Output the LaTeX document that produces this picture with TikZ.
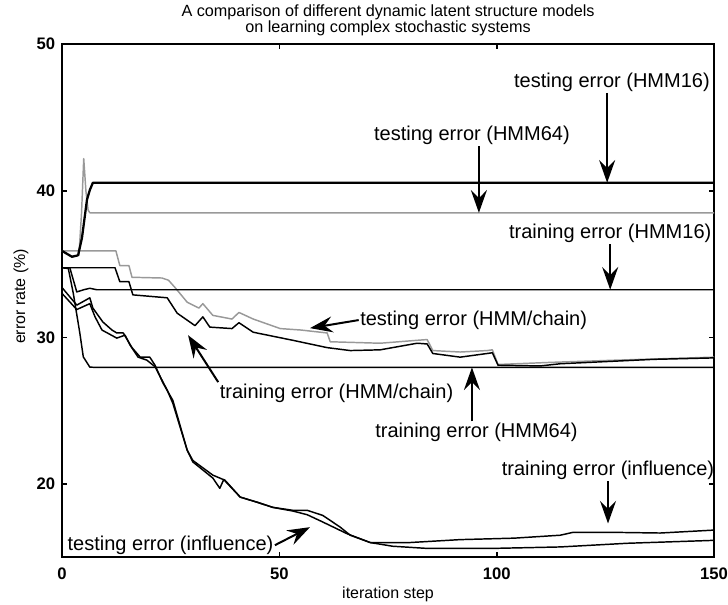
\documentclass[tikz,border=0pt]{standalone}
\usepackage{fontspec}
\setmainfont{Liberation Sans}
\usetikzlibrary{arrows.meta}
\tikzset{%
  curve/.style   = {line width=1.1pt, line join=round}, % plain run
  heavy/.style   = {line width=1.7pt, line join=round}, % bold run
  faint/.style   = {gray!80, line width=1.1pt, line join=round}, % grey run
  note/.style    = {font=\fontsize{15}{18}\selectfont, inner sep=1pt},
  ticklab/.style = {font=\bfseries\fontsize{12.5}{15}\selectfont, inner sep=1pt},
  axlab/.style   = {font=\fontsize{12}{14}\selectfont, inner sep=1pt},
  pointer/.style = {->, line width=1.5pt}
}

\begin{document}
\begin{tikzpicture}[x=3.26pt, y=10.99pt,
  >={Stealth[length=17pt, width=12pt, inset=6pt]}]
\useasboundingbox (-14.26,11.79) rectangle (153.2,53.02);

% Frame and ticks
\draw[line width=1.5pt] (0,15) rectangle (150,50);
\foreach \t in {50,100} {
  \draw[line width=1.2pt] (\t,15) -- ++(0,0.34);
  \draw[line width=1.2pt] (\t,50) -- ++(0,-0.34);
}
\foreach \v in {20,30,40} {
  \draw[line width=1.2pt] (0,\v) -- ++(1.15,0);
  \draw[line width=1.2pt] (150,\v) -- ++(-1.15,0);
}
\foreach \v in {20,30,40,50}
  \node[ticklab, anchor=east] (yl\v) at (-1.2,\v) {\v};
\foreach \t in {0,50,100,150}
  \node[ticklab] (xl\t) at (\t,13.84) {\t};

% Axis titles
\draw
  node[axlab] (xlab) at (75,12.47) {iteration step}
  node[axlab, rotate=90] (ylab) at (-9.43,32.8) {error rate (\%)}
  node[axlab, align=center, font=\fontsize{12.15}{12.3}\selectfont]
    (title) at (75,51.65)
    {A comparison of different dynamic latent structure models\\
     on learning complex stochastic systems};

% Grey runs first
\draw[faint] plot coordinates {(0,35.9) (2.3,35.5) (3.9,35.6) (4.5,38.5)
  (5.0,42.2) (5.5,40) (6.0,38.7) (6.4,38.5) (150,38.5)};
\draw[faint] plot coordinates {(0,35.9) (12.4,35.9) (13.3,34.9) (15.4,34.9)
  (16.1,34.1) (23,34.05) (24.5,33.9) (26,33.4) (28.8,32.4) (31.5,32.0)
  (32.4,32.3) (34.7,31.5) (39.1,31.25) (40.7,31.7) (44,31.25) (50.2,30.6)
  (55,30.5) (61,30.3) (61.7,29.7) (73.2,29.6) (81.7,29.8) (84,29.85)
  (85.3,29.1) (91.6,29.0) (97.8,29.1) (99,29.15) (100.3,28.15) (113,28.3)
  (128,28.45) (150,28.65)};

% Black runs
\draw[heavy] plot coordinates {(0,35.9) (2.3,35.5) (3.7,35.6) (4.6,36.8)
  (5.75,39.4) (6.4,40.05) (7.1,40.55) (150,40.55)};
\draw[curve] plot coordinates {(0,34.75) (1.8,34.75) (3.4,33.1) (5,33.25)
  (6.4,33.35) (8,33.25) (150,33.25)};
\draw[curve] plot coordinates {(0,34.75) (1.45,34.7) (2.6,33.0) (4.1,30.3)
  (4.9,28.67) (6.4,27.97) (8,27.95) (150,27.95)};
\draw[curve] plot coordinates {(0,34.75) (12.2,34.75) (13.3,33.8) (15.4,33.8)
  (16.3,32.9) (24.2,32.7) (26.5,31.65) (30.6,30.8) (32.4,31.4) (34,30.7)
  (39.1,30.6) (40.7,31.0) (44,30.35) (53.1,29.8) (61,29.3) (66.3,29.1)
  (73.2,29.15) (81.7,29.6) (84,29.55) (85.3,28.9) (91.6,28.65) (97.8,28.9)
  (99,28.95) (100.3,28.1) (110,28.05) (114.6,28.2) (136,28.5) (150,28.6)};
\draw[curve] plot coordinates {(0,33.4) (3.4,32.2) (6.4,32.7) (7.1,32.0)
  (9.4,31.05) (11.5,30.5) (12.6,30.3) (14.1,30.3) (16.1,29.3) (18,28.65)
  (20.2,28.65) (21.4,28.1) (23.2,26.9) (25.5,25.7) (28.8,22.3) (30.1,21.6)
  (34.7,20.6) (37.5,20.25) (41,19.1) (44.9,18.75) (48.5,18.4) (53.1,18.2)
  (56.4,18.2) (60,17.85) (64,17.05) (66.3,16.5) (70.9,16.0) (80,16.0)
  (91.6,16.2) (104,16.3) (114.6,16.5) (117.6,16.7) (126,16.7) (137.6,16.65)
  (150,16.85)};
\draw[curve] plot coordinates {(0,33.0) (3.4,31.9) (6.4,32.3) (7.6,31.4)
  (9.2,30.5) (12.6,29.95) (14.5,30.15) (15.6,29.5) (17.5,28.65) (19.5,28.45)
  (21.4,28.0) (24.2,26.4) (25.5,25.5) (28.8,22.3) (30.1,21.5) (34.7,20.4)
  (36.3,19.7) (37.2,20.3) (41,19.1) (44.9,18.75) (48.5,18.4) (53.1,18.15)
  (56.4,17.9) (60,17.4) (65.6,16.6) (70.9,16.0) (76,15.75) (84,15.6)
  (99,15.6) (114.6,15.7) (130,15.95) (150,16.15)};

% Labels for the runs
\draw
  node[note] (lTe16) at (126.5,47.42) {testing error (HMM16)}
  node[note] (lTe64) at (94.3,43.8) {testing error (HMM64)}
  node[note] (lTr16) at (126.1,37.1) {training error (HMM16)}
  node[note] (lTeCh) at (94.7,31.18) {testing error (HMM/chain)}
  node[note] (lTrCh) at (63.15,26.2) {training error (HMM/chain)}
  node[note] (lTr64) at (95.35,23.53) {training error (HMM64)}
  node[note] (lTrIn) at (125.6,20.94) {training error (influence)}
  node[note] (lTeIn) at (24.96,15.82) {testing error (influence)};

% Arrow tips on the runs
\coordinate (pTe16) at (125.4,40.55);
\coordinate (pTe64) at (95.9,38.5);
\coordinate (pTr16) at (126.1,33.25);
\coordinate (pTeCh) at (57.05,30.63);
\coordinate (pTrCh) at (29.0,30.15);
\coordinate (pTr64) at (94.3,27.95);
\coordinate (pTrIn) at (125.6,17.3);
\coordinate (pTeIn) at (57.05,17.05);

% Pointers
\draw[pointer] (lTe16.south -| pTe16) -- (pTe16);
\draw[pointer] (lTe64.south -| pTe64) -- (pTe64);
\draw[pointer] (lTr16.south -| pTr16) -- (pTr16);
\draw[pointer] (lTeCh.west) -- (pTeCh);
\draw[pointer] (lTrCh.north west) -- (pTrCh);
\draw[pointer] (lTr64.north -| pTr64) -- (pTr64);
\draw[pointer] (lTrIn.south -| pTrIn) -- (pTrIn);
\draw[pointer] (lTeIn.east) -- (pTeIn);
\end{tikzpicture}
\end{document}
